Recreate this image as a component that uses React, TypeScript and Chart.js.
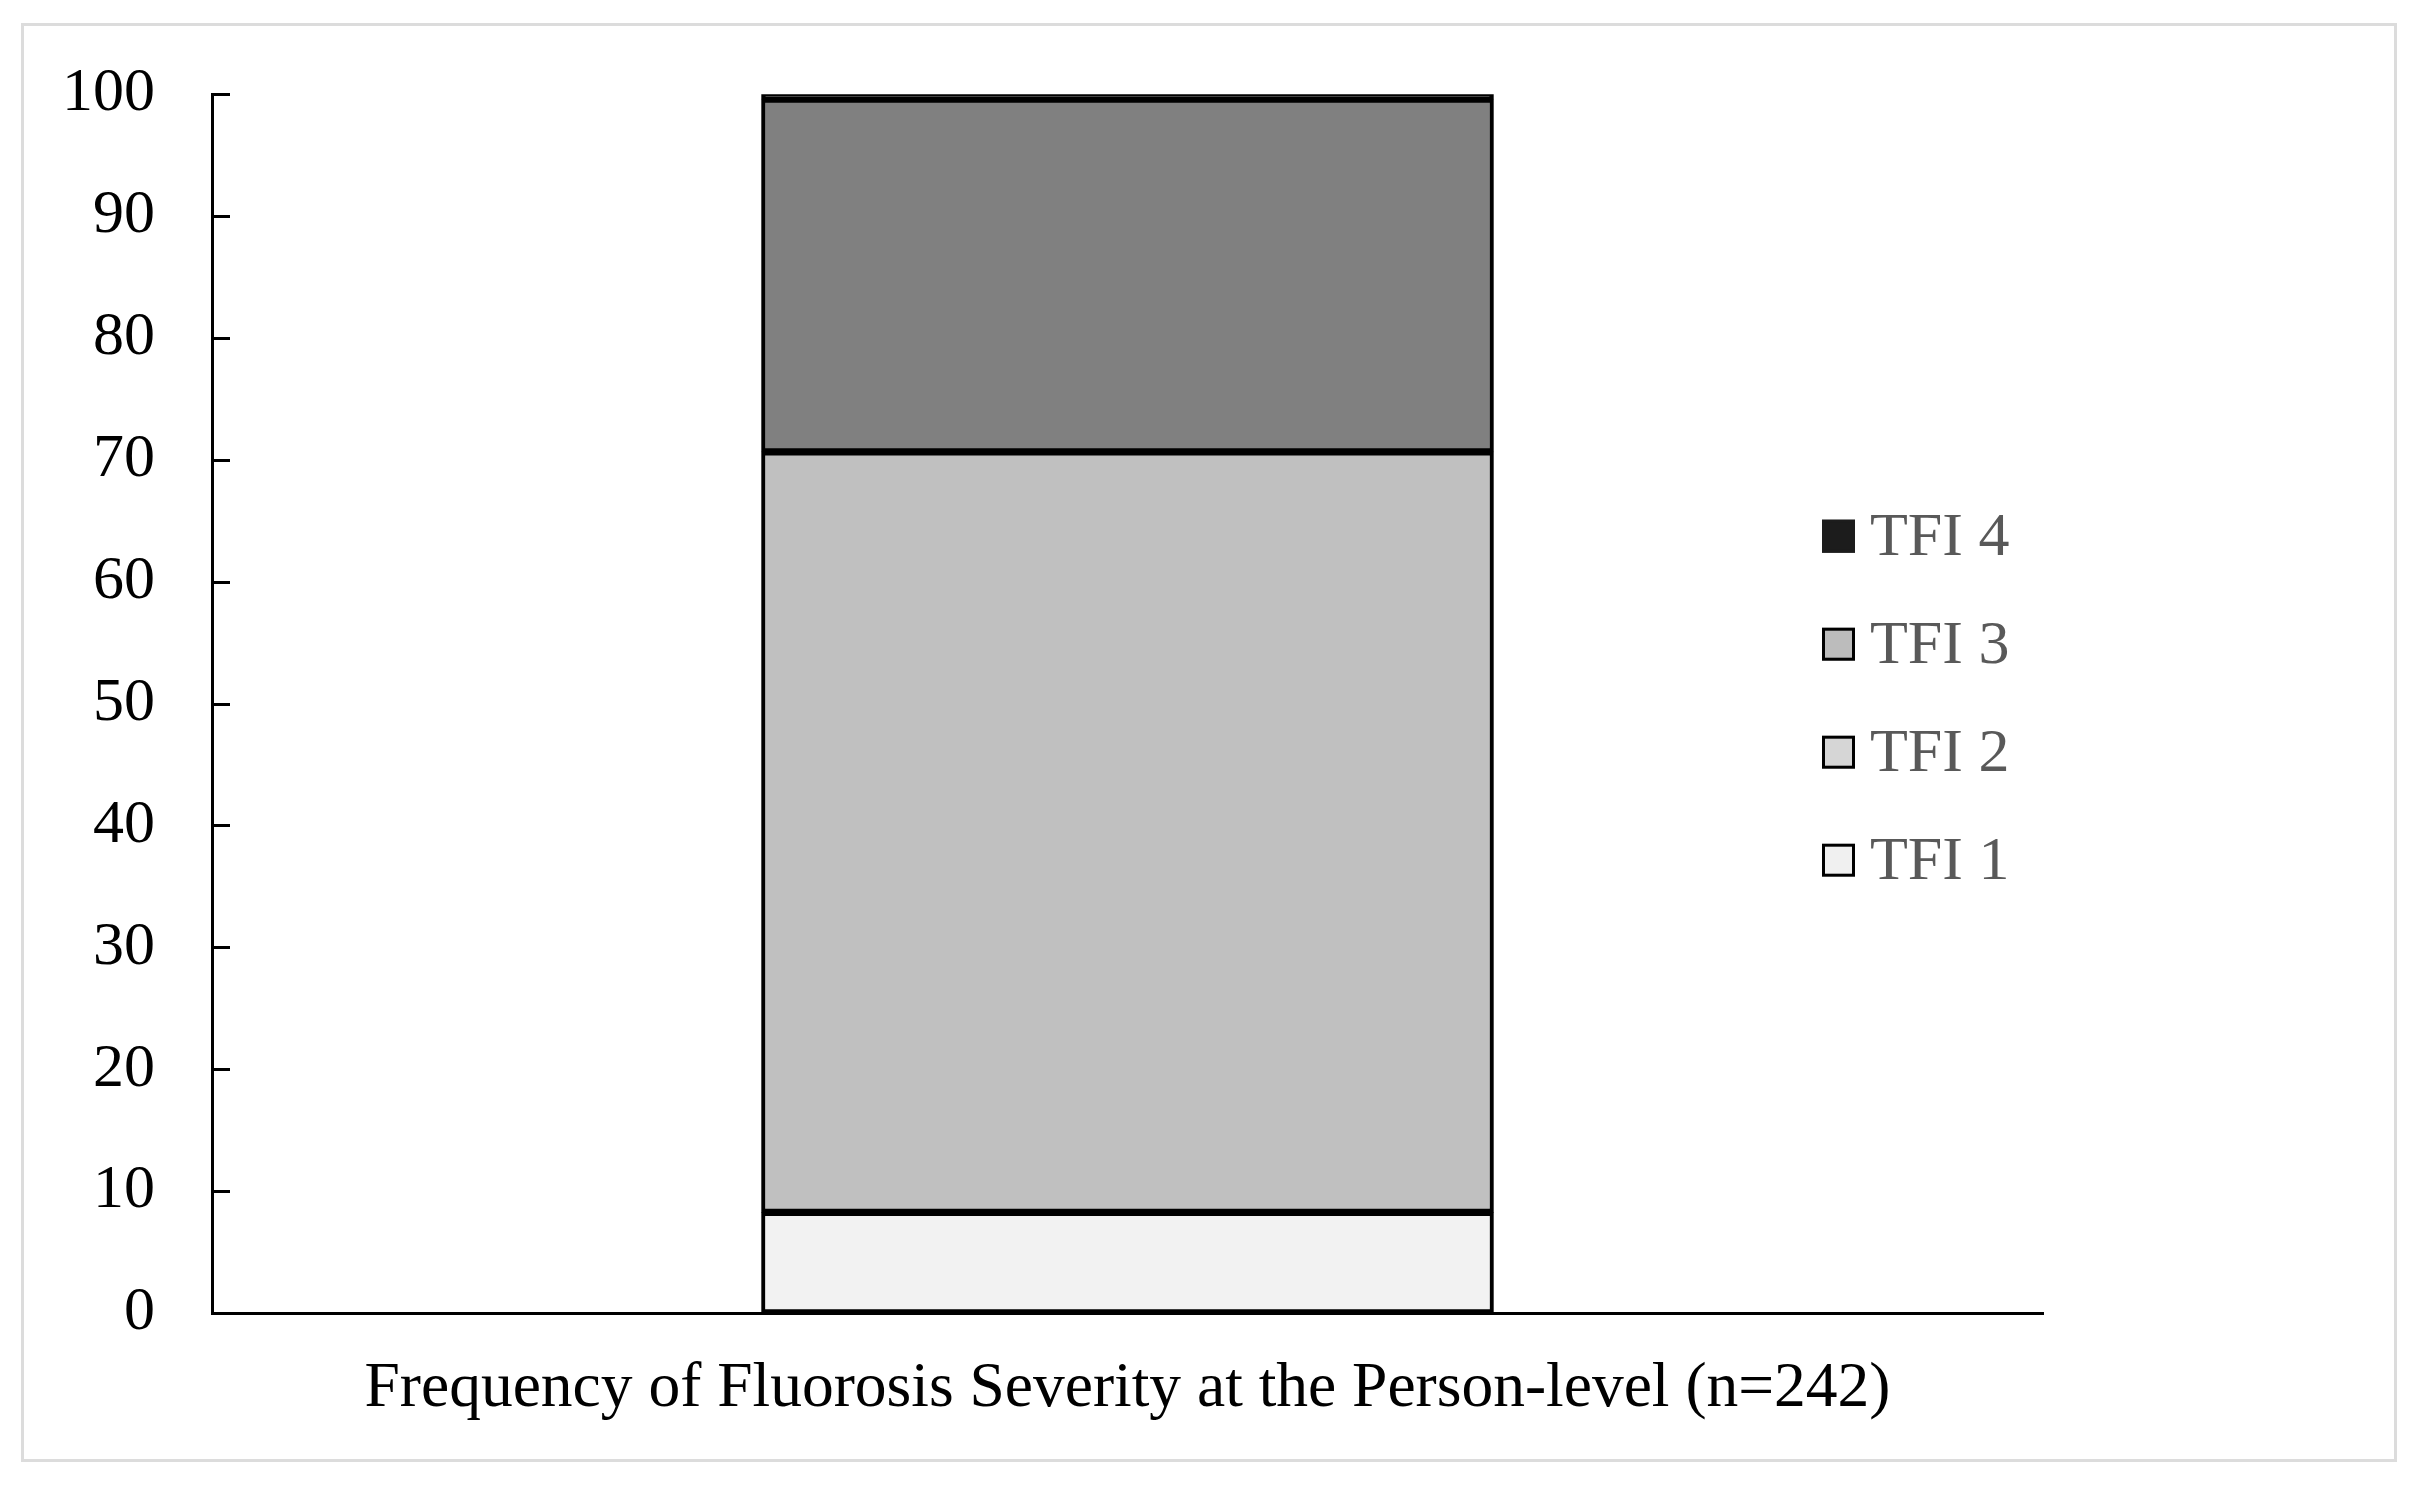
import React, { useEffect, useRef } from 'react';
import { Chart, registerables } from 'chart.js';

Chart.register(...registerables);

const seriesLabels = ['TFI 1', 'TFI 2', 'TFI 3', 'TFI 4'];
const seriesValues = [8.26, 62.4, 28.93, 0.41];
const barColors = ['#f2f2f2', '#c0c0c0', '#808080', '#1c1c1c'];
const legendColors = ['#f0f0f0', '#d6d6d6', '#bcbcbc', '#1c1c1c'];
const yTickValues = [0, 10, 20, 30, 40, 50, 60, 70, 80, 90, 100];
const xTitle = 'Frequency of Fluorosis Severity at the Person-level (n=242)';
const barX = 0;
const xMin = -50;
const xMax = 50;

const FONT = '"Liberation Serif", "Times New Roman", serif';

const innerTicksPlugin = {
  id: 'innerTicks',
  afterDraw(chart: any) {
    const y = chart.scales.y;
    const { ctx, chartArea } = chart;
    ctx.save();
    ctx.strokeStyle = '#000';
    ctx.lineWidth = 3;
    for (const v of yTickValues) {
      const py = Math.round(y.getPixelForValue(v)) + 0.5;
      ctx.beginPath();
      ctx.moveTo(chartArea.left, py);
      ctx.lineTo(chartArea.left + 18, py);
      ctx.stroke();
    }
    ctx.restore();
  },
};

const legendPlugin = {
  id: 'customLegend',
  afterDraw(chart: any) {
    const { ctx, chartArea } = chart;
    const boxX = chartArea.left + 1610;
    const box = 33;
    const textX = boxX + 48;
    const firstY = chartArea.top + 442;
    const step = 108;
    ctx.save();
    ctx.font = `62px ${FONT}`;
    ctx.textBaseline = 'middle';
    ctx.textAlign = 'left';
    for (let i = seriesLabels.length - 1, r = 0; i >= 0; i--, r++) {
      const cy = firstY + r * step;
      ctx.fillStyle = legendColors[i];
      ctx.fillRect(boxX, cy - box / 2, box, box);
      ctx.strokeStyle = i === seriesLabels.length - 1 ? legendColors[i] : '#000';
      ctx.lineWidth = 3;
      ctx.strokeRect(boxX + 1.5, cy - box / 2 + 1.5, box - 3, box - 3);
      ctx.fillStyle = '#595959';
      ctx.fillText(seriesLabels[i], textX, cy + 3);
    }
    ctx.restore();
  },
};

export default function App() {
  const ref = useRef<HTMLCanvasElement | null>(null);

  useEffect(() => {
    const canvas = ref.current;
    if (!canvas) return;
    const chart = new Chart(canvas, {
      type: 'bar',
      data: {
        datasets: seriesLabels.map((label, i) => ({
          label,
          data: [{ x: barX, y: seriesValues[i] }],
          backgroundColor: barColors[i],
          borderColor: '#000',
          borderWidth: 4,
          borderSkipped: false,
          barThickness: 732,
        })),
      },
      options: {
        animation: false,
        responsive: false,
        devicePixelRatio: 1,
        layout: { padding: { left: 0, top: 93, right: 378, bottom: 0 } },
        plugins: {
          legend: { display: false },
          tooltip: { enabled: false },
        },
        scales: {
          x: {
            type: 'linear',
            stacked: true,
            min: xMin,
            max: xMax,
            grid: { display: false },
            border: { display: true, color: '#000', width: 3 },
            ticks: { display: false },
            title: {
              display: true,
              text: xTitle,
              color: '#000',
              font: { family: FONT, size: 63.5 },
              padding: { top: 0, bottom: 60 },
            },
            afterFit(scale: any) {
              scale.height = 174;
            },
          },
          y: {
            type: 'linear',
            stacked: true,
            min: 0,
            max: 100,
            grid: { display: false, drawTicks: false },
            border: { display: true, color: '#000', width: 3 },
            ticks: {
              stepSize: 10,
              color: '#000',
              padding: 57,
              font: { family: FONT, size: 62 },
            },
            afterFit(scale: any) {
              scale.width = 212;
            },
          },
        },
      },
      plugins: [innerTicksPlugin, legendPlugin],
    } as any);
    return () => chart.destroy();
  }, []);

  return (
    <div style={{ position: 'fixed', left: 0, top: 0, width: 2421, height: 1487, background: '#fff' }}>
      <canvas ref={ref} width={2421} height={1487} style={{ position: 'absolute', left: 0, top: 0, width: 2421, height: 1487 }} />
      <div
        style={{
          position: 'absolute',
          left: 21,
          top: 23,
          width: 2376,
          height: 1439,
          border: '3px solid #dcdcdc',
          boxSizing: 'border-box',
          pointerEvents: 'none',
        }}
      />
    </div>
  );
}
